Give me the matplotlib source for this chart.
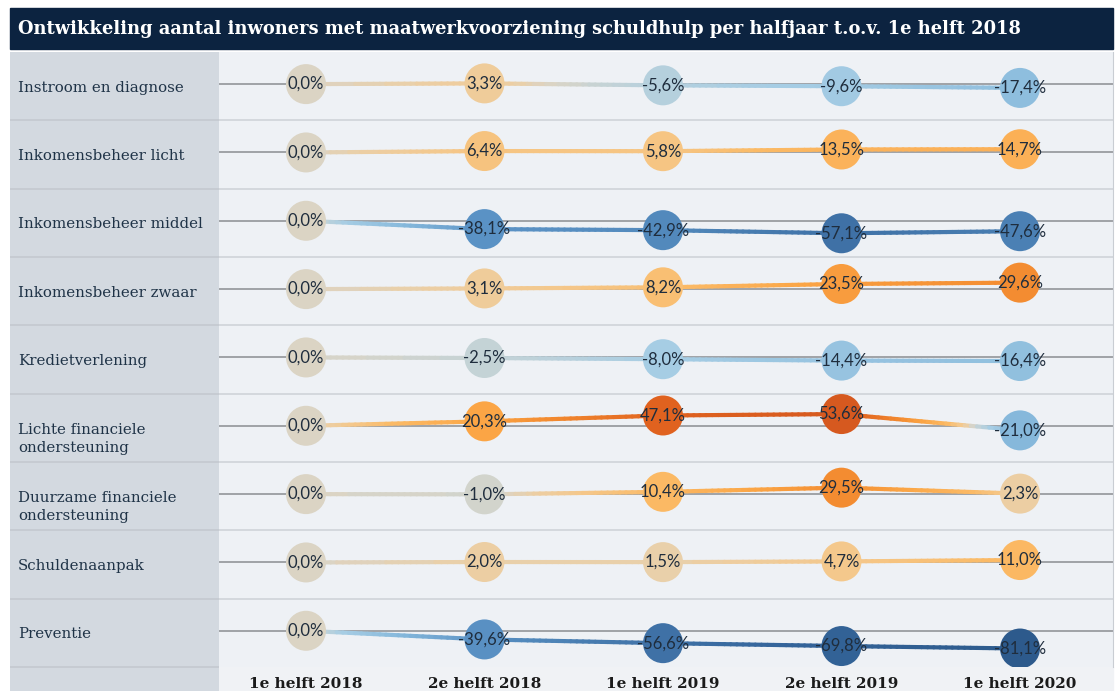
import numpy as np
import matplotlib
matplotlib.use("Agg")
from matplotlib import pyplot as plt
from matplotlib.collections import LineCollection
from matplotlib.colors import LinearSegmentedColormap, Normalize
from matplotlib.patches import Rectangle

# data
periods = ["1e helft 2018", "2e helft 2018", "1e helft 2019", "2e helft 2019", "1e helft 2020"]
categories = [
    "Instroom en diagnose",
    "Inkomensbeheer licht",
    "Inkomensbeheer middel",
    "Inkomensbeheer zwaar",
    "Kredietverlening",
    "Lichte financiele\nondersteuning",
    "Duurzame financiele\nondersteuning",
    "Schuldenaanpak",
    "Preventie",
]
instroom = [0.0, 3.3, -5.6, -9.6, -17.4]
ink_licht = [0.0, 6.4, 5.8, 13.5, 14.7]
ink_middel = [0.0, -38.1, -42.9, -57.1, -47.6]
ink_zwaar = [0.0, 3.1, 8.2, 23.5, 29.6]
krediet = [0.0, -2.5, -8.0, -14.4, -16.4]
lichte_fin = [0.0, 20.3, 47.1, 53.6, -21.0]
duurzame_fin = [0.0, -1.0, 10.4, 29.5, 2.3]
schulden = [0.0, 2.0, 1.5, 4.7, 11.0]
preventie = [0.0, -39.6, -56.6, -69.8, -81.1]
series = [instroom, ink_licht, ink_middel, ink_zwaar, krediet,
          lichte_fin, duurzame_fin, schulden, preventie]

W, H = 1116, 691
fig = plt.figure(figsize=(W / 100, H / 100), dpi=100)
fig.patch.set_facecolor("white")


def fx(px):
    return px / W


def fy(py):
    return 1 - py / H


# diverging colour scale, blue = decline, orange = growth
vmin, vmax = -85, 55
anchors = [(-85, "#2b5889"), (-65, "#35659b"), (-50, "#477cb0"), (-38, "#5b93c6"),
           (-20, "#88badc"), (-8, "#a6cde4"), (-2.5, "#c5d3d6"), (0, "#dad4c6"),
           (2, "#ebcfa6"), (5, "#f4c88c"), (10, "#fbba66"), (20, "#fba646"),
           (30, "#f38b30"), (47, "#e0621f"), (55, "#d4581f")]
cmap = LinearSegmentedColormap.from_list(
    "div", [((v - vmin) / (vmax - vmin), c) for v, c in anchors])
norm = Normalize(vmin, vmax)

# title bar
fig.patches.append(Rectangle((fx(10), fy(49)), fx(1113) - fx(10), fy(8) - fy(49),
                             transform=fig.transFigure, color="#0c2340", zorder=-1))
fig.text(fx(18), fy(29), "Ontwikkeling aantal inwoners met maatwerkvoorziening schuldhulp "
         "per halfjaar t.o.v. 1e helft 2018", color="white", fontsize=12.9,
         fontweight="bold", family="DejaVu Serif", va="center", ha="left")

# light strip under the period labels
fig.patches.append(Rectangle((fx(219), fy(691)), fx(1113) - fx(219), fy(667) - fy(691),
                             transform=fig.transFigure, color="#f0f2f5", zorder=-1))

top, bottom = 52, 667
n = len(categories)

# label column
axl = fig.add_axes([fx(10), fy(691), fx(219) - fx(10), fy(52) - fy(691)])
axl.set_facecolor("#d3d9e0")
axl.set_xlim(0, 1)
axl.set_ylim(n + (691 - bottom) / ((bottom - top) / n), 0)
axl.set_xticks([])
axl.set_yticks([])
for s in axl.spines.values():
    s.set_visible(False)
for i in range(1, n + 1):
    axl.axhline(i, color="#c4c9d0", lw=1.2)
for i, cat in enumerate(categories):
    yy = i + 0.5 + (0.16 if "\n" in cat else 0.02)
    axl.text(8 / 209, yy, cat, ha="left", va="center", fontsize=10.8,
             family="DejaVu Serif", color="#1f3347", linespacing=1.4)

# plot area
ax = fig.add_axes([fx(219), fy(667), fx(1113) - fx(219), fy(52) - fy(667)])
ax.set_facecolor("#eef1f5")
step = 178.5
ax.set_xlim((219 - 306) / step, (1113 - 306) / step)
ax.set_ylim(n, 0)
for s in ["top", "left", "bottom"]:
    ax.spines[s].set_visible(False)
ax.spines["right"].set_color("#c9cdd3")
for i in range(1, n):
    ax.axhline(i, color="#cfd3d9", lw=1.2, zorder=1)

scale = 0.0032  # row units per percent point
x = np.arange(len(periods))
for i, vals in enumerate(series):
    base = i + 0.47
    vals = np.array(vals)
    ys = base - vals * scale
    ax.axhline(base, color="#8a8d91", lw=1.1, zorder=2)
    # colour runs from one point's colour to the next
    for j in range(len(vals) - 1):
        t = np.linspace(0, 1, 30)
        px = x[j] + (x[j + 1] - x[j]) * t
        py = ys[j] + (ys[j + 1] - ys[j]) * t
        pts = np.column_stack([px, py]).reshape(-1, 1, 2)
        segs = np.concatenate([pts[:-1], pts[1:]], axis=1)
        cv = vals[j] + (vals[j + 1] - vals[j]) * t[:-1]
        lc = LineCollection(segs, colors=cmap(norm(cv)), linewidths=3.0,
                            zorder=3, capstyle="round")
        ax.add_collection(lc)
    ax.scatter(x, ys, s=28.8 ** 2, c=cmap(norm(vals)), zorder=4, linewidths=0)
    for xx, yy, v in zip(x, ys, vals):
        lbl = f"{v:.1f}%".replace(".", ",")
        ax.text(xx, yy, lbl, ha="center", va="center", fontsize=12,
                family=["Lato", "DejaVu Sans"], color="#1f2d3d", zorder=5)

ax.set_yticks([])
ax.set_xticks(x)
ax.set_xticklabels(periods, fontsize=11, fontweight="bold", family="DejaVu Serif",
                   color="#1a1a1a")
ax.tick_params(axis="x", length=0, pad=7)

plt.savefig("out.png", dpi=100, facecolor=fig.get_facecolor())
